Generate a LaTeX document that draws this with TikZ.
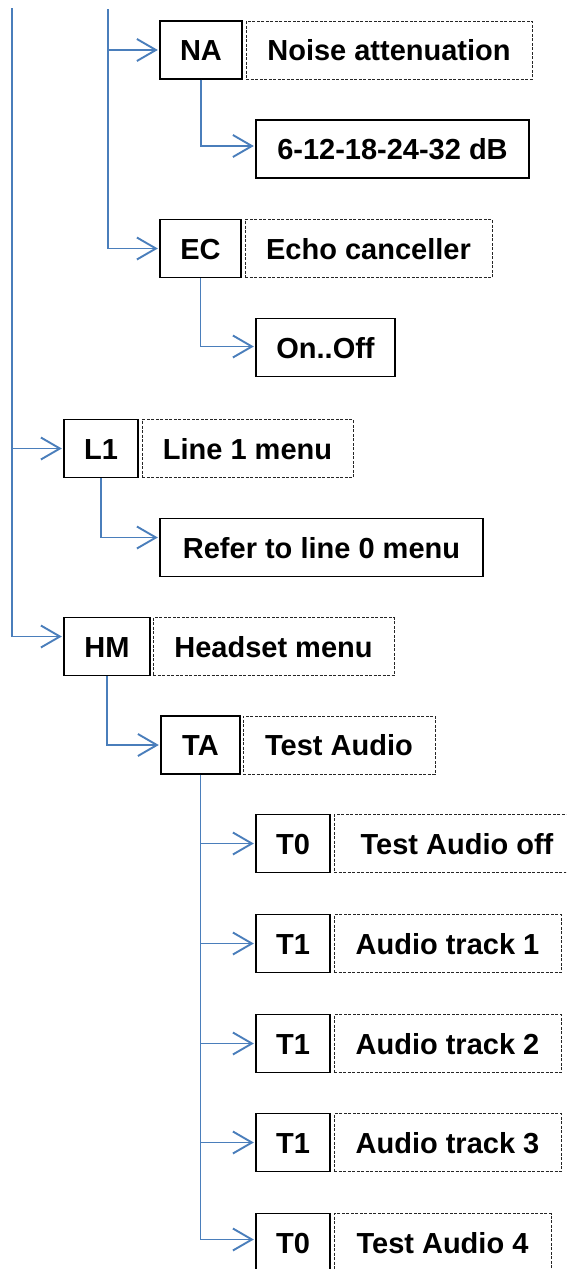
\documentclass[tikz,border=0pt]{standalone}
\usepackage{fontspec}
\setmainfont{Liberation Sans}
\usetikzlibrary{arrows.meta}
\definecolor{conblue}{HTML}{4A7EBB}
\begin{document}
\begin{tikzpicture}[x=1pt,y=-1pt,
  box/.style={draw=black, line width=1.4pt, minimum height=58pt, inner sep=0pt,
    font=\fontsize{29}{34}\selectfont\bfseries, text height=21pt, text depth=0pt},
  dbox/.style={box, draw=black!85, line width=1pt, dash pattern=on 3pt off 1.5pt},
  conn/.style={draw=conblue, line width=1.9pt,
    -{Straight Barb[length=19pt,width=22pt]}, shorten >=1.5pt}]
\clip (0,0) rectangle (566,1269);
% nodes
\node[box, minimum width=82pt] (na) at (201,50) {NA};
\node[dbox, minimum width=286pt] (nad) at (389,50) {Noise attenuation};
\node[box, minimum width=273pt] (db) at (392.5,149) {6-12-18-24-32 dB};
\node[box, minimum width=81pt] (ec) at (200.5,248.5) {EC};
\node[dbox, minimum width=247pt] (ecd) at (368.5,248.5) {Echo canceller};
\node[box, minimum width=139pt] (onoff) at (325.5,347.5) {On..Off};
\node[box, minimum width=74pt] (l1) at (101,448.5) {L1};
\node[dbox, minimum width=211pt] (l1d) at (247.5,448.5) {Line 1 menu};
\node[box, minimum width=323pt] (refer) at (321.5,547.5) {Refer to line 0 menu};
\node[box, minimum width=86pt] (hm) at (107,646.5) {HM};
\node[dbox, minimum width=241pt] (hmd) at (273.5,646.5) {Headset menu};
\node[box, minimum width=79pt] (ta) at (200.5,745) {TA};
\node[dbox, minimum width=192pt] (tad) at (339,745) {Test Audio};
\node[box, minimum width=74pt] (t0a) at (293,843.5) {T0};
\node[dbox, minimum width=246pt] (t0ad) at (457,843.5) {Test Audio off};
\node[box, minimum width=74pt] (t1a) at (293,943.5) {T1};
\node[dbox, minimum width=227pt] (t1ad) at (447.5,943.5) {Audio track 1};
\node[box, minimum width=74pt] (t1b) at (293,1043.5) {T1};
\node[dbox, minimum width=227pt] (t1bd) at (447.5,1043.5) {Audio track 2};
\node[box, minimum width=74pt] (t1c) at (293,1142.5) {T1};
\node[dbox, minimum width=227pt] (t1cd) at (447.5,1142.5) {Audio track 3};
\node[box, minimum width=74pt] (t0b) at (293,1242.5) {T0};
\node[dbox, minimum width=217pt] (t0bd) at (442.5,1242.5) {Test Audio 4};
% free ends of the lines coming from above
\coordinate (topA) at (12,8);
\coordinate (topB) at (108,9);
% connectors
\draw[conn] (topB) |- (ec.west);
\draw[conn] (topB |- na.west) -- (na.west);
\draw[conn] (na.south) |- ([yshift=3pt]db.west);
\draw[conn] (ec.south) |- ([yshift=1pt]onoff.west);
\draw[conn] (topA) |- ([yshift=10pt]hm.west);
\draw[conn] (topA |- l1.west) -- (l1.west);
\draw[conn] (l1.south) |- ([yshift=10pt]refer.west);
\draw[conn] (hm.south) |- (ta.west);
\draw[conn] (ta.south) |- ([yshift=3pt]t0b.west);
\draw[conn] (ta.south |- t0a.west) -- (t0a.west);
\draw[conn] (ta.south |- t1a.west) -- (t1a.west);
\draw[conn] (ta.south |- t1b.west) -- (t1b.west);
\draw[conn] (ta.south |- t1c.west) -- (t1c.west);
\end{tikzpicture}
\end{document}
